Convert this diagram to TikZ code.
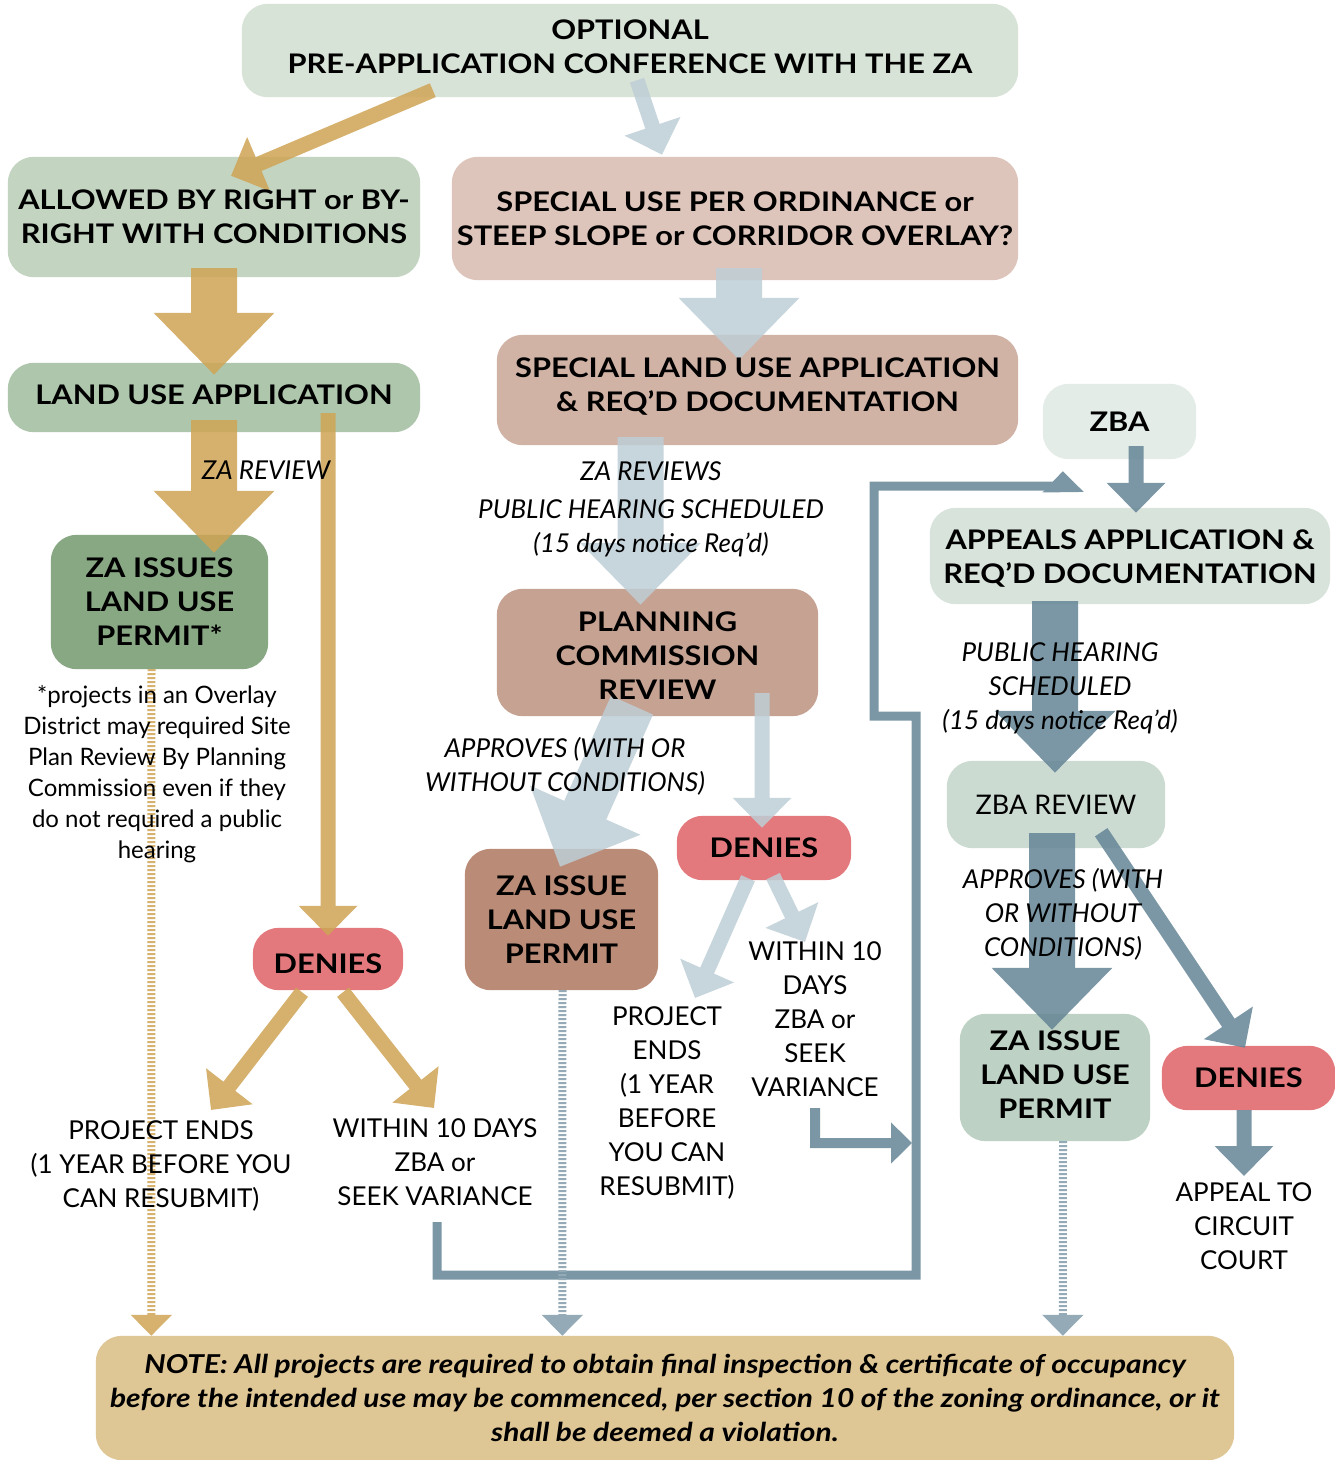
\documentclass[tikz,border=0pt]{standalone}
\usepackage{fontspec}
\setmainfont{Lato}
\newfontfamily\stagefam[FakeStretch=1.14]{Lato}
\newfontfamily\notefam[FakeStretch=1.15]{Lato}
\usetikzlibrary{arrows.meta,calc}

\definecolor{preclr}{HTML}{D8E3D7}
\definecolor{allowclr}{HTML}{C3D5C1}
\definecolor{landclr}{HTML}{AEC6AC}
\definecolor{zaissclr}{HTML}{88A883}
\definecolor{specclr}{HTML}{DEC5BB}
\definecolor{specappclr}{HTML}{D1B3A6}
\definecolor{planclr}{HTML}{C5A292}
\definecolor{zaisstwoclr}{HTML}{BA8C78}
\definecolor{denyclr}{HTML}{E3797D}
\definecolor{zbaclr}{HTML}{E3ECE6}
\definecolor{appealclr}{HTML}{D8E3DB}
\definecolor{zbarevclr}{HTML}{CCDBD2}
\definecolor{zaissthreeclr}{HTML}{BDD1C4}
\definecolor{noteclr}{HTML}{DFC695}
\definecolor{goldarr}{HTML}{CFA455}
\definecolor{palearr}{HTML}{BECED6}
\definecolor{steelarr}{HTML}{648596}
\definecolor{goldstripe}{HTML}{D6B26E}
\definecolor{steelstripe}{HTML}{94AAB6}

\pgfdeclarelayer{boxes}
\pgfdeclarelayer{arrows}
\pgfsetlayers{boxes,arrows,main}

\begin{document}
\begin{tikzpicture}[x=1pt, y=-1pt,
		stage/.style={align=center, inner sep=0pt, font=\stagefam\bfseries\fontsize{27}{34}\selectfont},
		lbl/.style={align=center, inner sep=0pt, font=\fontsize{26}{34}\selectfont},
		ilbl/.style={align=center, inner sep=0pt, font=\itshape\fontsize{26}{34}\selectfont},
		fat/.style={line width=46pt, -{Triangle[width=117pt,length=62pt]}},
		slim/.style={line width=15pt, -{Triangle[width=57pt,length=30pt]}},
		hook/.style={line width=10pt, line join=miter, -{Triangle[width=40pt,length=21pt]}},
		stripe/.style={line width=8pt, dash pattern=on 2pt off 2pt, -{Triangle[width=40pt,length=21pt]}}]
	\useasboundingbox (0,0) rectangle (1335,1460);
	
	% Boxes of the approval flow
	\node[stage, text depth=8pt, minimum width=776pt, minimum height=93pt] (pre) at (630,50.5) {OPTIONAL\\PRE-APPLICATION CONFERENCE WITH THE ZA};
	\node[stage, minimum width=412pt, minimum height=120pt] (allow) at (214,217) {ALLOWED BY RIGHT or BY-\\RIGHT WITH CONDITIONS};
	\node[stage, minimum width=566pt, minimum height=123pt] (special) at (735,218.5) {SPECIAL USE PER ORDINANCE or\\STEEP SLOPE or CORRIDOR OVERLAY?};
	\node[stage, text depth=6pt, minimum width=412pt, minimum height=69pt] (land) at (214,397.5) {LAND USE APPLICATION};
	\node[stage, text depth=10pt, minimum width=521pt, minimum height=110pt] (specapp) at (757.5,390) {SPECIAL LAND USE APPLICATION\\\& REQ’D DOCUMENTATION};
	\node[stage, minimum width=153pt, minimum height=75pt] (zba) at (1119.5,421.5) {ZBA};
	\node[stage, minimum width=217pt, minimum height=134pt] (zaiss) at (159.5,602) {ZA ISSUES\\LAND USE\\PERMIT*};
	\node[stage, text height=59.5pt, minimum width=400pt, minimum height=96pt] (appeal) at (1130,556) {APPEALS APPLICATION \&\\REQ’D DOCUMENTATION};
	\node[stage, text height=93.3pt, minimum width=321pt, minimum height=127pt] (plan) at (657.5,652.5) {PLANNING\\COMMISSION\\REVIEW};
	\node[stage, text height=28pt, text depth=0pt, minimum width=150pt, minimum height=62pt] (deny1) at (328,959) {DENIES};
	\node[stage, minimum width=193pt, minimum height=141pt] (zaiss2) at (561.5,919.5) {ZA ISSUE\\LAND USE\\PERMIT};
	\node[stage, minimum width=174pt, minimum height=64pt] (deny2) at (764,848) {DENIES};
	\node[stage, font=\fontsize{27}{34}\selectfont, minimum width=218pt, minimum height=87pt] (zbarev) at (1056,804.5) {ZBA REVIEW};
	\node[stage, text depth=6pt, minimum width=190pt, minimum height=127pt] (zaiss3) at (1055,1077.5) {ZA ISSUE\\LAND USE\\PERMIT};
	\node[stage, minimum width=173pt, minimum height=64pt] (deny3) at (1248.5,1078) {DENIES};
	\node[stage, font=\notefam\bfseries\itshape\fontsize{26}{34}\selectfont, minimum width=1138pt, minimum height=124pt] (note) at (665,1398) {NOTE:\ All projects are required to obtain final inspection \& certificate of occupancy\\before the intended use may be commenced, per section 10 of the zoning ordinance, or it\\shall be deemed a violation.};
	
	% Labels beside the arrows
	\node[ilbl] (zarev) at (266,470) {ZA REVIEW};
	\node[ilbl] (pubhear) at (651,509) {ZA REVIEWS\\[4pt]PUBLIC HEARING SCHEDULED\\(15 days notice Req’d)};
	\node[ilbl] (approve) at (565,766) {APPROVES (WITH OR\\WITHOUT CONDITIONS)};
	\node[lbl, font=\fontsize{24}{31}\selectfont] (overlay) at (157,774) {*projects in an Overlay\\District may required Site\\Plan Review By Planning\\Commission even if they\\do not required a public\\hearing};
	\node[lbl] (ends) at (161,1166) {PROJECT ENDS\\(1 YEAR BEFORE YOU\\CAN RESUBMIT)};
	\node[lbl] (within) at (435,1162) {WITHIN 10 DAYS\\ZBA or\\SEEK VARIANCE};
	\node[lbl] (endsb) at (667,1103) {PROJECT\\ENDS\\(1 YEAR\\BEFORE\\YOU CAN\\RESUBMIT)};
	\node[lbl] (withinb) at (815,1019) {WITHIN 10\\DAYS\\ZBA or\\SEEK\\VARIANCE};
	\node[ilbl] (pubhearb) at (1060,688) {PUBLIC HEARING\\SCHEDULED\\(15 days notice Req’d)};
	\node[ilbl] (approveb) at (1063,914) {APPROVES (WITH\\OR WITHOUT\\CONDITIONS)};
	\node[lbl] (court) at (1244,1226) {APPEAL TO\\CIRCUIT\\COURT};
	
	% Corners of the route back to the ZBA
	\coordinate (loopa) at (916,1275);
	\coordinate (loopb) at (874,716);
	\coordinate (loopc) at (1063,486);
	\coordinate (hookend) at (912,1143);
	
	% Box fills behind everything
	\begin{pgfonlayer}{boxes}
		\fill[white] (0,0) rectangle (1335,1460);
		\foreach \n/\c in {pre/preclr, allow/allowclr, special/specclr, land/landclr, specapp/specappclr,
			zba/zbaclr, zaiss/zaissclr, appeal/appealclr, plan/planclr, deny1/denyclr, zaiss2/zaisstwoclr,
			deny2/denyclr, zbarev/zbarevclr, zaiss3/zaissthreeclr, deny3/denyclr, note/noteclr}
			\fill[\c, rounded corners=26pt] (\n.south west) rectangle (\n.north east);
	\end{pgfonlayer}
	
	\begin{pgfonlayer}{arrows}
		% By-right path
		\begin{scope}[transparency group, opacity=.85]
			\draw[slim, goldarr] ($(pre.south west)+(191,-7)$) -- ($(allow.north)+(17,19)$);
			\draw[fat, goldarr] ($(allow.south)+(0,-9)$) -- ($(land.north)+(0,12)$);
			\draw[fat, goldarr] ($(land.south)+(0,-12)$) -- ($(zaiss.north)+(54.5,18)$);
			\draw[slim, goldarr] ($(land.south east)+(-92,-19)$) -- ($(deny1.north)+(0,8)$);
			\draw[slim, goldarr] ($(deny1.south)+(-26,2)$) -- ($(ends)+(50,-56)$);
			\draw[slim, goldarr] ($(deny1.south)+(15,2)$) -- ($(within)+(-1,-54)$);
		\end{scope}
		
		% Special use path
		\begin{scope}[transparency group, opacity=.85]
			\draw[slim, palearr] ($(pre.south)+(7,-17)$) -- ($(special.north)+(-73,-2)$);
			\draw[fat, palearr] ($(special.south)+(4,-12)$) -- ($(specapp.north)+(-18.5,25)$);
			\draw[fat, palearr] ($(specapp.south)+(-117,-8)$) -- ($(plan.north)+(-17,16)$);
			\draw[fat, palearr] ($(plan.south)+(-25.5,-11)$) -- ($(zaiss2.north)+(-1.5,18)$);
			\draw[slim, palearr] ($(plan.south east)+(-56,-23)$) -- ($(deny2.north)+(-2,12)$);
			\draw[slim, palearr] ($(deny2.south)+(-16,-2)$) -- ($(endsb)+(28,-105)$);
			\draw[slim, palearr] ($(deny2.south)+(9,-4)$) -- ($(withinb)+(-10,-77)$);
		\end{scope}
		
		% Appeals path
		\begin{scope}[transparency group, opacity=.85]
			\draw[hook, steelarr] ($(withinb)+(0,89)$) |- (hookend);
			\draw[hook, steelarr, line width=9pt] ($(within)+(2,60)$) |- (loopa) |- (loopb) |- (loopc) -- ($(zba.south west)+(20,12)$);
			\draw[slim, steelarr] ($(zba.south)+(16.5,-13)$) -- ($(appeal.north)+(6,5)$);
			\draw[fat, steelarr] ($(appeal.south)+(-75,-3)$) -- ($(zbarev.north)+(-1,12)$);
			\draw[fat, steelarr] ($(zbarev.south)+(-4,-15)$) -- ($(zaiss3.north)+(-3,16)$);
			\draw[slim, steelarr] ($(zbarev.south east)+(-64,-16)$) -- ($(deny3.north)+(-3.5,2)$);
			\draw[slim, steelarr] ($(deny3.south)+(-4.5,0)$) -- ($(court)+(0,-50)$);
		\end{scope}
		
		% Permits lead to the note
		\draw[stripe, goldstripe] ($(zaiss.south)+(-8,0)$) -- ($(note.north west)+(55.5,0)$);
		\draw[stripe, steelstripe] ($(zaiss2.south)+(1,0)$) -- ($(note.north west)+(466.5,0)$);
		\draw[stripe, steelstripe] ($(zaiss3.south)+(8,0)$) -- ($(note.north west)+(967,0)$);
	\end{pgfonlayer}
\end{tikzpicture}
\end{document}
